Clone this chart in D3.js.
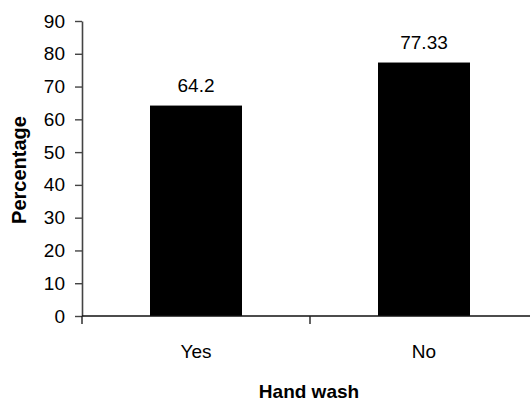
<!DOCTYPE html>
<html>
<head>
<meta charset="utf-8">
<script src="https://cdn.jsdelivr.net/npm/d3@7"></script>
<style>
  html, body { margin: 0; padding: 0; background: #fff; }
  svg { display: block; font-family: "Liberation Sans", Arial, sans-serif; }
</style>
</head>
<body>
<svg id="chart" width="530" height="401"></svg>
<script>
// Share of respondents by hand-washing habit
const categories = ["Yes", "No"];
const values = [64.2, 77.33];
const valueLabels = ["64.2", "77.33"];
const yTicks = [0, 10, 20, 30, 40, 50, 60, 70, 80, 90];
const xTitle = "Hand wash";
const yTitle = "Percentage";

const svg = d3.select("#chart");
const plotLeft = 82, plotRight = 538, plotTop = 21, plotBottom = 316;

const x = d3.scaleBand()
  .domain(categories)
  .range([plotLeft, plotRight])
  .paddingInner(0.5965)
  .paddingOuter(0.5965 / 2);

const y = d3.scaleLinear().domain([0, 90]).range([plotBottom, plotTop]);

// bars
svg.append("g").selectAll("rect")
  .data(categories)
  .join("rect")
  .attr("x", d => x(d))
  .attr("width", x.bandwidth())
  .attr("y", (d, i) => y(values[i]))
  .attr("height", (d, i) => y(0) - y(values[i]))
  .attr("fill", "#000");

// value labels above bars
svg.append("g").selectAll("text")
  .data(categories)
  .join("text")
  .attr("x", d => x(d) + x.bandwidth() / 2)
  .attr("y", (d, i) => y(values[i]) - 14)
  .attr("text-anchor", "middle")
  .attr("font-size", 19)
  .attr("fill", "#000")
  .text((d, i) => valueLabels[i]);

// y axis
const yAxis = svg.append("g")
  .attr("transform", `translate(${plotLeft},0)`)
  .call(d3.axisLeft(y).tickValues(yTicks).tickSize(7).tickPadding(10).tickSizeOuter(0));
yAxis.select(".domain").attr("stroke", "#444").attr("stroke-width", 1.6);
yAxis.selectAll(".tick line").attr("stroke", "#444").attr("stroke-width", 1.4);
yAxis.selectAll(".tick text")
  .attr("font-size", 19)
  .attr("font-family", "'Liberation Sans', Arial, sans-serif")
  .attr("fill", "#000");

// x axis with ticks at category boundaries
const boundaries = [plotLeft, (x("Yes") + x.bandwidth() + x("No")) / 2, plotRight];
const xAxis = svg.append("g");
xAxis.append("line")
  .attr("x1", plotLeft).attr("x2", plotRight)
  .attr("y1", plotBottom).attr("y2", plotBottom)
  .attr("stroke", "#111").attr("stroke-width", 1.6);
xAxis.selectAll("line.tk")
  .data(boundaries)
  .join("line")
  .attr("class", "tk")
  .attr("x1", d => d).attr("x2", d => d)
  .attr("y1", plotBottom).attr("y2", plotBottom + 8)
  .attr("stroke", "#222").attr("stroke-width", 1.4);
xAxis.selectAll("text")
  .data(categories)
  .join("text")
  .attr("x", d => x(d) + x.bandwidth() / 2)
  .attr("y", 358)
  .attr("text-anchor", "middle")
  .attr("font-size", 19)
  .attr("fill", "#000")
  .text(d => d);

// axis titles
svg.append("text")
  .attr("x", 309)
  .attr("y", 398)
  .attr("text-anchor", "middle")
  .attr("font-size", 19)
  .attr("font-weight", "bold")
  .attr("fill", "#000")
  .text(xTitle);

svg.append("text")
  .attr("transform", "translate(26,170) rotate(-90)")
  .attr("text-anchor", "middle")
  .attr("font-size", 20)
  .attr("font-weight", "bold")
  .attr("fill", "#000")
  .text(yTitle);
</script>
</body>
</html>
